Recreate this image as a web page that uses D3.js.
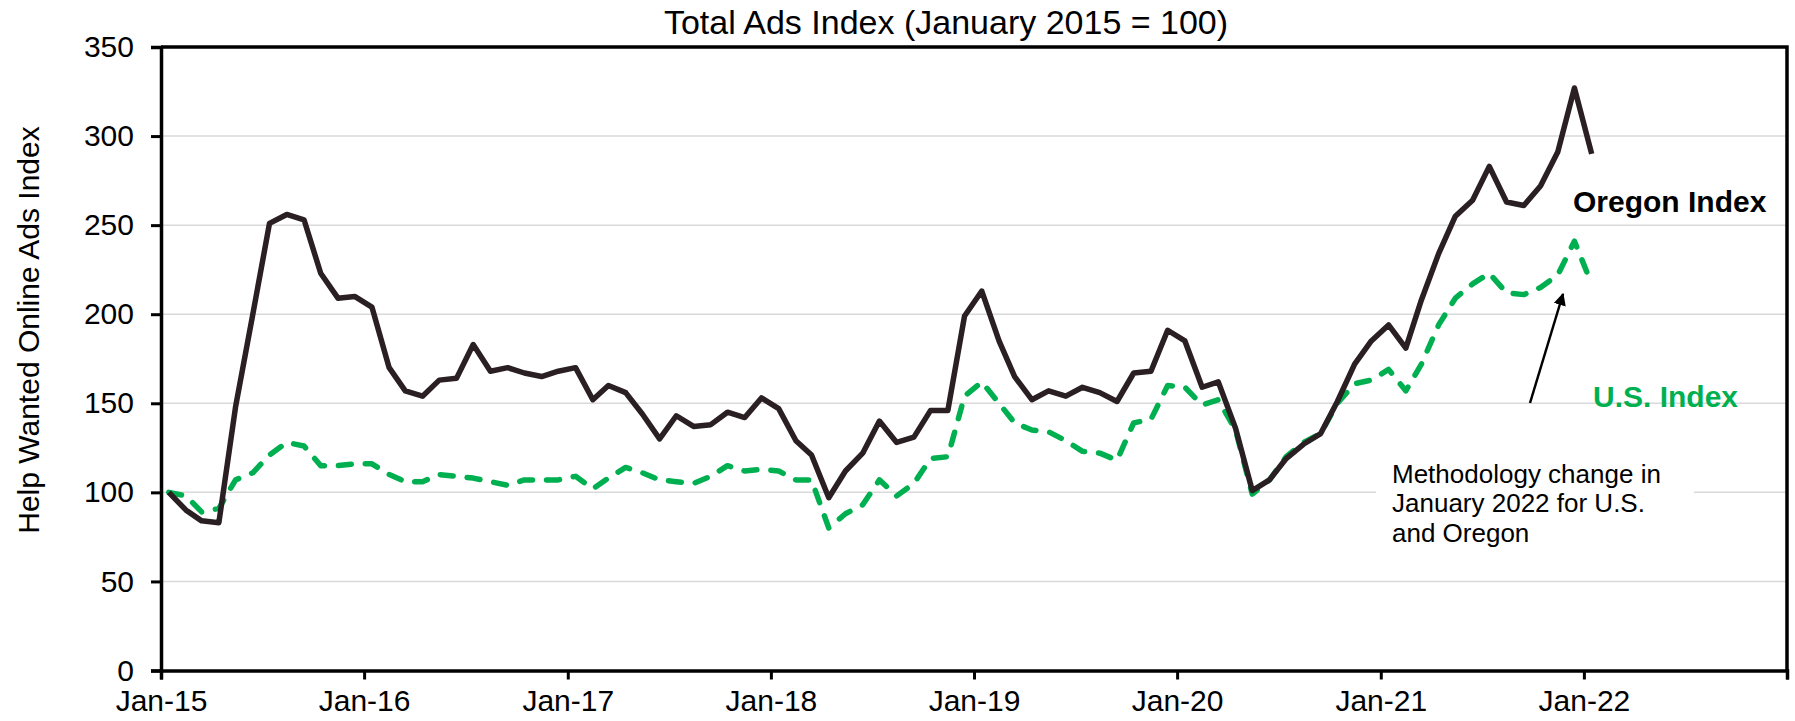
<!DOCTYPE html>
<html>
<head>
<meta charset="utf-8">
<script src="https://cdn.jsdelivr.net/npm/d3@7"></script>
<style>
  body { margin: 0; background: #fff; }
  text { font-family: "Liberation Sans", Arial, sans-serif; fill: #000; }
</style>
</head>
<body>
<div id="chart"></div>
<script>
"use strict";

// monthly values, Jan 2015 .. Jan 2022
var oregonIndex = [
  100, 90, 84, 83, 148, 200, 251, 256, 253, 223, 209, 210,
  204, 170, 157, 154, 163, 164, 183, 168, 170, 167, 165, 168,
  170, 152, 160, 156, 144, 130, 143, 137, 138, 145, 142, 153,
  147, 129, 121, 97, 112, 122, 140, 128, 131, 146, 146, 199,
  213, 185, 165, 152, 157, 154, 159, 156, 151, 167, 168, 191,
  185, 159, 162, 136, 101, 107, 119, 127, 133, 151, 172, 185,
  194, 181, 208, 234, 255, 264, 283, 263, 261, 272, 291, 327,
  290
];
var usIndex = [
  100, 98, 89, 91, 107, 111, 121, 128, 126, 115, 115, 116,
  116, 110, 106, 106, 110, 109, 108, 106, 104, 107, 107, 107,
  109, 102, 108, 114, 111, 107, 106, 105, 109, 115, 112, 113,
  112, 107, 107, 80, 88, 93, 107, 98, 105, 119, 120, 154,
  162, 150, 139, 135, 134, 129, 123, 122, 118, 139, 141, 160,
  159, 149, 152, 135, 99, 107, 120, 128, 133, 150, 161, 163,
  169, 157, 172, 194, 209, 217, 223, 212, 211, 215, 222, 241,
  217
];
var startYear = 2015;
var yTicks = [0, 50, 100, 150, 200, 250, 300, 350];
var xTickYears = [2015, 2016, 2017, 2018, 2019, 2020, 2021, 2022, 2023];
var xTickLabels = ["Jan-15", "Jan-16", "Jan-17", "Jan-18", "Jan-19", "Jan-20", "Jan-21", "Jan-22", ""];
var noteLines = ["Methodology change in", "January 2022 for U.S.", "and Oregon"];

var width = 1795, height = 721;
var margin = {top: 47, right: 8, bottom: 50.5, left: 161};
var plotW = width - margin.left - margin.right;
var plotH = height - margin.top - margin.bottom;

var dates = oregonIndex.map(function(d, i) { return new Date(startYear, i, 15); });

var x = d3.scaleTime()
  .domain([new Date(2015, 0, 1), new Date(2023, 0, 1)])
  .range([margin.left, margin.left + plotW]);
var y = d3.scaleLinear()
  .domain([0, 350])
  .range([margin.top + plotH, margin.top]);

var svg = d3.select("#chart")
  .append("svg")
  .attr("width", width)
  .attr("height", height);

// gridlines
svg.append("g")
  .selectAll("line")
  .data(yTicks.filter(function(t) { return t > 0 && t < 350; }))
  .enter()
  .append("line")
  .attr("x1", margin.left)
  .attr("x2", margin.left + plotW)
  .attr("y1", function(d) { return y(d); })
  .attr("y2", function(d) { return y(d); })
  .attr("stroke", "#d9d9d9")
  .attr("stroke-width", 1.5);

// white box behind the note
svg.append("rect")
  .attr("x", 1376)
  .attr("y", 458)
  .attr("width", 318)
  .attr("height", 98)
  .attr("fill", "#fff");

var line = d3.line()
  .x(function(d, i) { return x(dates[i]); })
  .y(function(d) { return y(d); });

svg.append("path")
  .datum(usIndex)
  .attr("d", line)
  .attr("fill", "none")
  .attr("stroke", "#00b050")
  .attr("stroke-width", 5.5)
  .attr("stroke-dasharray", "13,14")
  .attr("stroke-linecap", "round")
  .attr("stroke-linejoin", "round");

svg.append("path")
  .datum(oregonIndex)
  .attr("d", line)
  .attr("fill", "none")
  .attr("stroke", "#2a1f23")
  .attr("stroke-width", 5.5)
  .attr("stroke-linejoin", "round");

// frame (top and right)
svg.append("path")
  .attr("d", "M" + margin.left + "," + margin.top + "H" + (margin.left + plotW) + "V" + (margin.top + plotH))
  .attr("fill", "none")
  .attr("stroke", "#000")
  .attr("stroke-width", 3.5);

// axes
var yAxis = svg.append("g")
  .attr("transform", "translate(" + margin.left + ",0)")
  .call(d3.axisLeft(y).tickValues(yTicks).tickSize(10).tickPadding(17));

var xAxis = svg.append("g")
  .attr("transform", "translate(0," + (margin.top + plotH) + ")")
  .call(d3.axisBottom(x)
    .tickValues(xTickYears.map(function(yr) { return new Date(yr, 0, 1); }))
    .tickFormat(function(d, i) { return xTickLabels[i]; })
    .tickSize(9)
    .tickPadding(10));

[yAxis, xAxis].forEach(function(a) {
  a.select(".domain").attr("stroke", "#000").attr("stroke-width", 3.5);
  a.selectAll(".tick line").attr("stroke", "#000").attr("stroke-width", 3);
  a.selectAll(".tick text").attr("font-size", 30).attr("font-family", "Liberation Sans, Arial, sans-serif");
});

// title
svg.append("text")
  .attr("x", 946)
  .attr("y", 34)
  .attr("text-anchor", "middle")
  .attr("font-size", 34)
  .text("Total Ads Index (January 2015 = 100)");

// y axis title
svg.append("text")
  .attr("transform", "translate(39,330) rotate(-90)")
  .attr("text-anchor", "middle")
  .attr("font-size", 30)
  .text("Help Wanted Online Ads Index");

// series labels
svg.append("text")
  .attr("x", 1573)
  .attr("y", 212)
  .attr("font-size", 30)
  .attr("font-weight", "bold")
  .text("Oregon Index");

svg.append("text")
  .attr("x", 1593)
  .attr("y", 407)
  .attr("font-size", 30)
  .attr("font-weight", "bold")
  .style("fill", "#00b050")
  .text("U.S. Index");

// note
svg.append("text")
  .attr("font-size", 26)
  .selectAll("tspan")
  .data(noteLines)
  .enter()
  .append("tspan")
  .attr("x", 1392)
  .attr("y", function(d, i) { return 483 + i * 29.3; })
  .text(function(d) { return d; });

// arrow
svg.append("defs")
  .append("marker")
  .attr("id", "head")
  .attr("viewBox", "0 0 10 10")
  .attr("refX", 9)
  .attr("refY", 5)
  .attr("markerWidth", 5)
  .attr("markerHeight", 5)
  .attr("orient", "auto")
  .append("path")
  .attr("d", "M0,0L10,5L0,10Z")
  .attr("fill", "#000");

svg.append("line")
  .attr("x1", 1530)
  .attr("y1", 403)
  .attr("x2", 1563)
  .attr("y2", 294)
  .attr("stroke", "#000")
  .attr("stroke-width", 2.5)
  .attr("marker-end", "url(#head)");
</script>
</body>
</html>
